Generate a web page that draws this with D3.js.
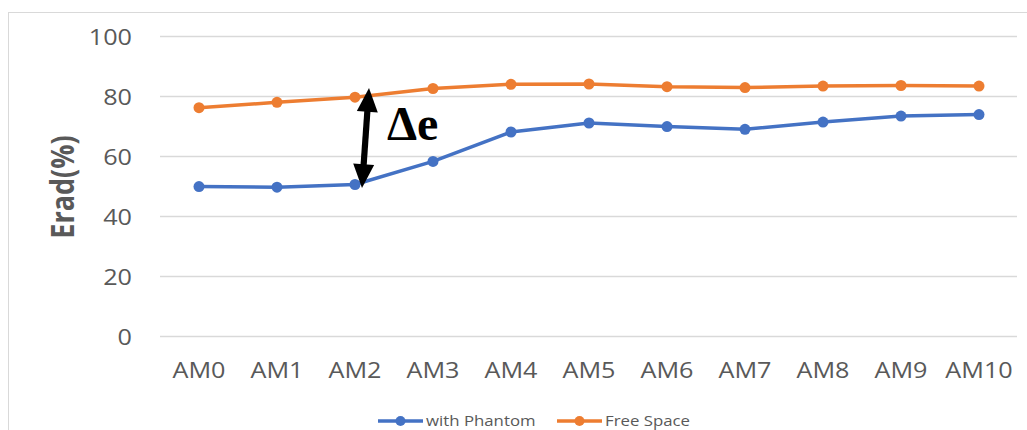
<!DOCTYPE html>
<html><head><meta charset="utf-8">
<script src="https://cdn.jsdelivr.net/npm/d3@7"></script>
<style>
html,body{margin:0;padding:0;background:#fff;}
svg{display:block;}
</style></head>
<body>
<svg id="chart" width="1027" height="430"></svg>
<script>
const categories = ["AM0","AM1","AM2","AM3","AM4","AM5","AM6","AM7","AM8","AM9","AM10"];
const withPhantom = [49.8, 49.6, 50.5, 58.2, 68.0, 71.0, 69.8, 68.9, 71.3, 73.3, 73.8];
const freeSpace   = [76.1, 77.9, 79.6, 82.5, 83.9, 84.0, 83.1, 82.8, 83.3, 83.5, 83.3];
const yTicks = [0, 20, 40, 60, 80, 100];
const seriesNames = ["with Phantom", "Free Space"];
const seriesColors = ["#4472C4", "#ED7D31"];
const annotationLabel = "Δe";

const svg = d3.select("#chart");
const SX = 1.2; // horizontal stretch of the reference image

const x = d3.scaleBand().domain(categories).range([160, 1018]);
const y = d3.scaleLinear().domain([0, 100]).range([336, 36]);
const cx = c => x(c) + x.bandwidth() / 2;

// outer border
svg.append("rect").attr("x", 8.5).attr("y", 12.5).attr("width", 1040).attr("height", 440)
  .attr("fill", "none").attr("stroke", "#D9D9D9").attr("stroke-width", 1);

// gridlines
const yAxis = d3.axisLeft(y).tickValues(yTicks).tickSize(-(1017 - 160)).tickPadding(0);
const gy = svg.append("g").attr("transform", "translate(160,0)").call(yAxis);
gy.select(".domain").remove();
gy.selectAll(".tick line").attr("stroke", "#D9D9D9").attr("stroke-width", 1.3);
gy.selectAll(".tick text").remove();
gy.selectAll(".tick").each(function(d) {
  d3.select(this).append("text")
    .attr("transform", "translate(-28,8) scale(" + SX + ",1)")
    .attr("text-anchor", "end")
    .attr("fill", "#595959")
    .style("font-family", "'Open Sans', sans-serif")
    .style("font-size", "21px")
    .text(d);
});

// x labels
const xAxis = d3.axisBottom(x).tickSize(0).tickPadding(0);
const gx = svg.append("g").attr("transform", "translate(0,336)").call(xAxis);
gx.select(".domain").remove();
gx.selectAll(".tick text").remove();
gx.selectAll(".tick").each(function(d) {
  d3.select(this).append("text")
    .attr("transform", "translate(0,42) scale(" + SX + ",1)")
    .attr("text-anchor", "middle")
    .attr("fill", "#595959")
    .style("font-family", "'Open Sans', sans-serif")
    .style("font-size", "21px")
    .text(d);
});

// y axis title
svg.append("text")
  .attr("transform", "translate(62,187) scale(" + SX + ",1) rotate(-90)")
  .attr("text-anchor", "middle")
  .attr("dominant-baseline", "central")
  .attr("fill", "#595959")
  .style("font-family", "'Open Sans', sans-serif")
  .style("font-weight", "bold")
  .style("font-size", "27px")
  .text("Erad(%)");

// series
const series = [withPhantom, freeSpace];
const line = d3.line().x((d, i) => cx(categories[i])).y(d => y(d));
series.forEach((vals, si) => {
  svg.append("path").datum(vals)
    .attr("d", line)
    .attr("fill", "none")
    .attr("stroke", seriesColors[si])
    .attr("stroke-width", 3.5)
    .attr("stroke-linejoin", "round")
    .attr("stroke-linecap", "round");
  svg.append("g").selectAll("circle").data(vals).join("circle")
    .attr("cx", (d, i) => cx(categories[i]))
    .attr("cy", d => y(d))
    .attr("r", 5.5)
    .attr("fill", seriesColors[si]);
});

// Δe annotation: double arrow between the two series at AM2
const ax = cx("AM2");
const tipA = { x: ax + 14, y: y(82.7) };
const tipB = { x: ax + 7, y: y(49.3) };
const ddx = tipB.x - tipA.x, ddy = tipB.y - tipA.y;
const len = Math.hypot(ddx, ddy);
const ux = ddx / len, uy = ddy / len, px = -uy, py = ux;
const headL = 24, headW = 10.5, shaftW = 3.1;
const ag = svg.append("g");
ag.append("line")
  .attr("x1", tipA.x + ux * (headL - 2)).attr("y1", tipA.y + uy * (headL - 2))
  .attr("x2", tipB.x - ux * (headL - 2)).attr("y2", tipB.y - uy * (headL - 2))
  .attr("stroke", "#000").attr("stroke-width", shaftW * 2);
function head(tip, dir) {
  const bx = tip.x + dir * ux * headL, by = tip.y + dir * uy * headL;
  return [[tip.x, tip.y], [bx + px * headW, by + py * headW], [bx - px * headW, by - py * headW]];
}
[head(tipA, 1), head(tipB, -1)].forEach(pts => {
  ag.append("polygon").attr("points", pts.map(p => p.join(",")).join(" ")).attr("fill", "#000");
});
svg.append("text")
  .attr("x", ax + 32).attr("y", 140)
  .style("font-family", "'Liberation Serif', 'Times New Roman', serif")
  .style("font-weight", "bold")
  .style("font-size", "48px")
  .attr("fill", "#000")
  .text(annotationLabel);

// legend
const legendX = [378, 557];
seriesNames.forEach((name, i) => {
  const g = svg.append("g").attr("transform", "translate(" + legendX[i] + ",421)");
  g.append("line").attr("x1", 0).attr("x2", 45).attr("y1", 0).attr("y2", 0)
    .attr("stroke", seriesColors[i]).attr("stroke-width", 3.5);
  g.append("circle").attr("cx", 22.5).attr("cy", 0).attr("r", 5).attr("fill", seriesColors[i]);
  g.append("text")
    .attr("transform", "translate(48,5) scale(" + SX + ",1)")
    .attr("fill", "#595959")
    .style("font-family", "'Open Sans', sans-serif")
    .style("font-size", "14px")
    .text(name);
});
</script>
</body></html>
